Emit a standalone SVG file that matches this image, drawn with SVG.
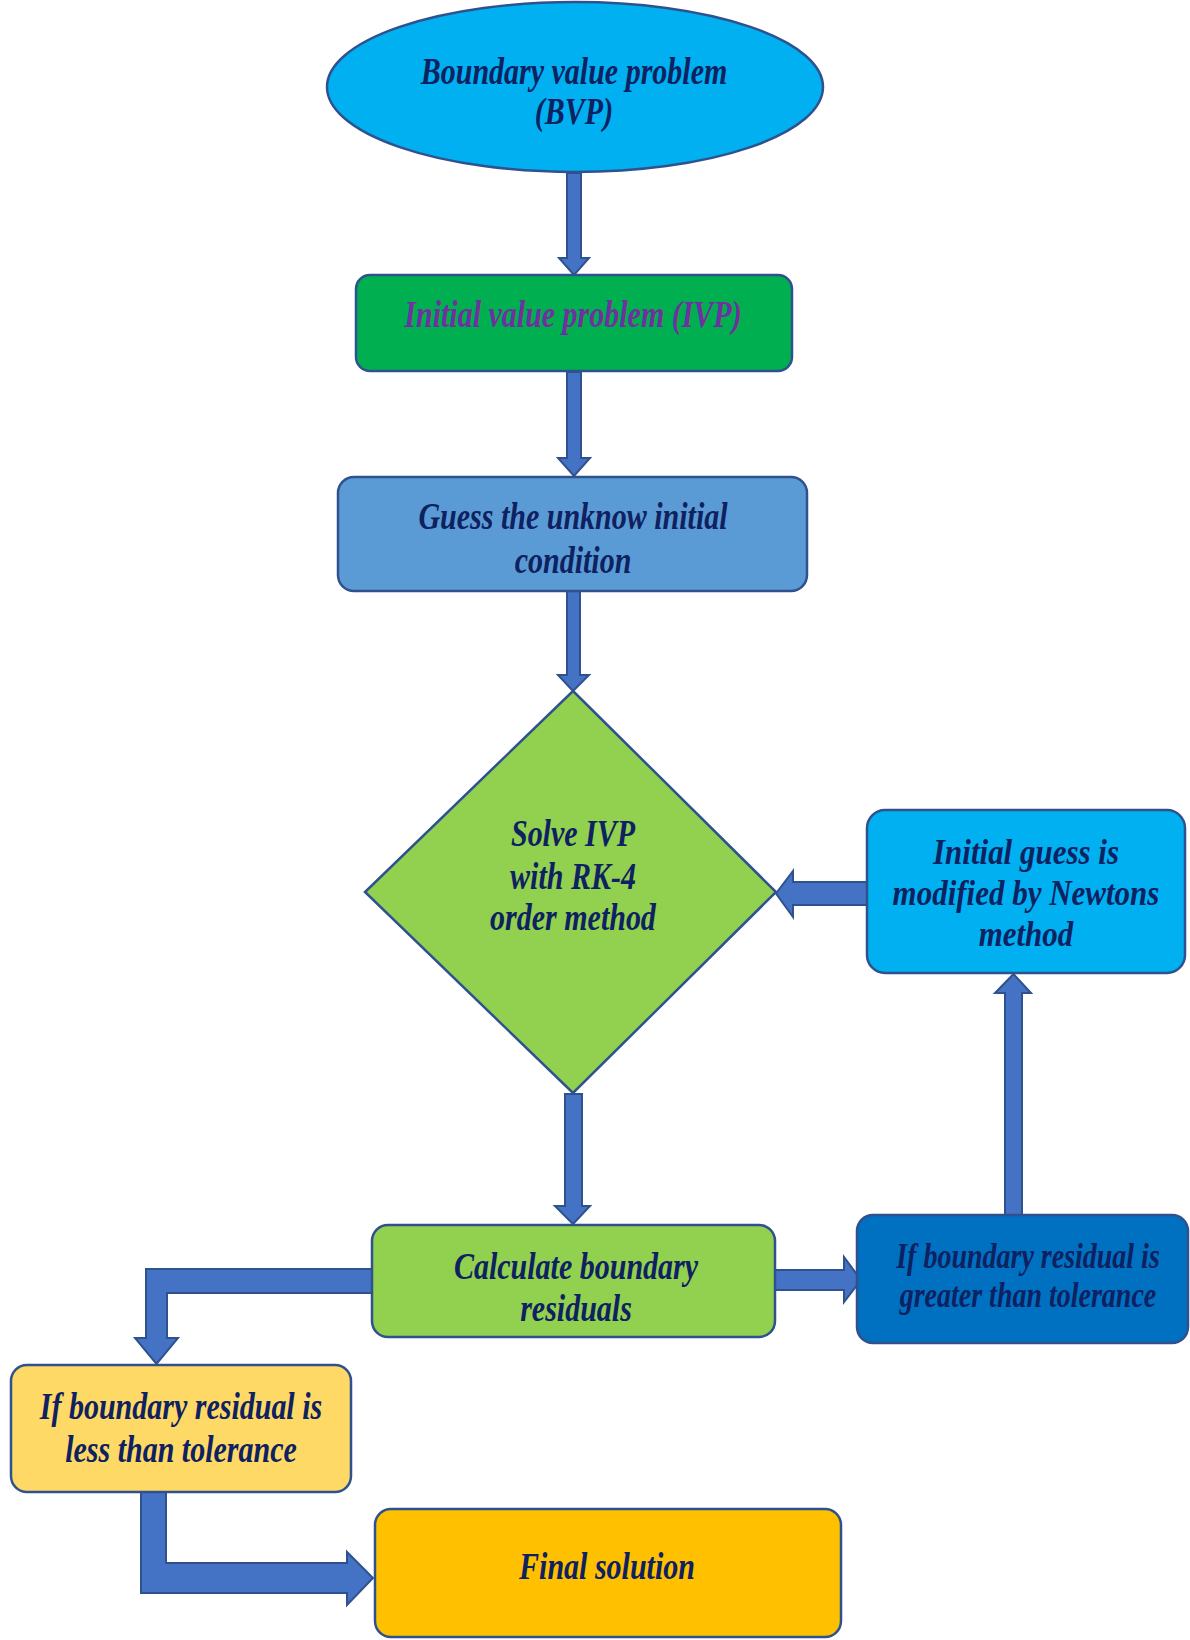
<svg xmlns="http://www.w3.org/2000/svg" width="1190" height="1640" viewBox="0 0 1190 1640">
<style>
.shape{stroke:#2F528F;stroke-width:2.5}
.arrow{fill:#4472C4;stroke:#2F528F;stroke-width:2;stroke-linejoin:miter}
text{font-family:"Liberation Serif","Times New Roman",serif;font-weight:bold;font-style:italic;text-anchor:middle;fill:#0E2160}
</style>
<rect width="1190" height="1640" fill="#ffffff"/>
<g id="connectors">
<path class="arrow" d="M567,173 L581,173 L581,258 L589,258 L574,275 L559,258 L567,258 Z"/>
<path class="arrow" d="M567,372 L581,372 L581,458 L590,458 L574,476 L558,458 L567,458 Z"/>
<path class="arrow" d="M567,591 L580,591 L580,675 L589,675 L573,691 L558,675 L567,675 Z"/>
<path class="arrow" d="M565,1094 L582,1094 L582,1206 L590,1206 L573,1224 L555,1206 L565,1206 Z"/>
<path class="arrow" d="M867,882 L867,905 L793,905 L793,917 L776,893.5 L793,871 L793,882 Z"/>
<path class="arrow" d="M1005,1215 L1005,993 L995,993 L1013.5,974 L1031,993 L1022,993 L1022,1215 Z"/>
<path class="arrow" d="M775,1270 L844,1270 L844,1257 L861,1280 L844,1302 L844,1290 L775,1290 Z"/>
<path class="arrow" d="M372,1269 L146,1269 L146,1338 L135,1338 L156.5,1364 L178,1338 L167,1338 L167,1293 L372,1293 Z"/>
<path class="arrow" d="M141,1492 L141,1593 L347,1593 L347,1605 L373,1578 L347,1552 L347,1563 L166,1563 L166,1492 Z"/>
</g>
<g id="bvp">
<ellipse class="shape" cx="575" cy="87" rx="248" ry="85" fill="#00B0F0"/>
<text transform="translate(574,84) scale(1,1.28)" font-size="30">Boundary value problem</text>
<text transform="translate(574,124) scale(1,1.28)" font-size="30">(BVP)</text>
</g>
<g id="ivp">
<rect class="shape" x="356" y="275" width="436" height="96" rx="14" fill="#00B050"/>
<text transform="translate(573,327) scale(1,1.28)" font-size="30" style="fill:#7030A0">Initial value problem (IVP)</text>
</g>
<g id="guess">
<rect class="shape" x="338" y="477" width="469" height="114" rx="16" fill="#5B9BD5"/>
<text transform="translate(573,529) scale(1,1.28)" font-size="30">Guess the unknow initial</text>
<text transform="translate(573,573) scale(1,1.28)" font-size="30">condition</text>
</g>
<g id="solve">
<polygon class="shape" points="573,691 776,892 573,1093 365,892" fill="#92D050"/>
<text transform="translate(573,846) scale(1,1.28)" font-size="30">Solve IVP</text>
<text transform="translate(573,889) scale(1,1.28)" font-size="30">with RK-4</text>
<text transform="translate(573,930) scale(1,1.28)" font-size="30">order method</text>
</g>
<g id="newton">
<rect class="shape" x="867" y="810" width="318" height="163" rx="18" fill="#00B0F0"/>
<text transform="translate(1026,864) scale(1,1.15)" font-size="31">Initial guess is</text>
<text transform="translate(1026,905) scale(1,1.15)" font-size="31">modified by Newtons</text>
<text transform="translate(1026,946) scale(1,1.15)" font-size="31">method</text>
</g>
<g id="calc">
<rect class="shape" x="372" y="1225" width="403" height="112" rx="16" fill="#92D050"/>
<text transform="translate(576,1279) scale(1,1.28)" font-size="30">Calculate boundary</text>
<text transform="translate(576,1321) scale(1,1.28)" font-size="30">residuals</text>
</g>
<g id="greater">
<rect class="shape" x="857" y="1215" width="331" height="128" rx="16" fill="#0070C0"/>
<text transform="translate(1028,1268) scale(1,1.28)" font-size="28">If boundary residual is</text>
<text transform="translate(1028,1307) scale(1,1.28)" font-size="28">greater than tolerance</text>
</g>
<g id="less">
<rect class="shape" x="11" y="1365" width="340" height="127" rx="16" fill="#FFD966"/>
<text transform="translate(181,1419) scale(1,1.28)" font-size="30">If boundary residual is</text>
<text transform="translate(181,1462) scale(1,1.28)" font-size="30">less than tolerance</text>
</g>
<g id="final">
<rect class="shape" x="375" y="1509" width="466" height="128" rx="16" fill="#FFC000"/>
<text transform="translate(607,1579) scale(1,1.28)" font-size="30">Final solution</text>
</g>
</svg>
